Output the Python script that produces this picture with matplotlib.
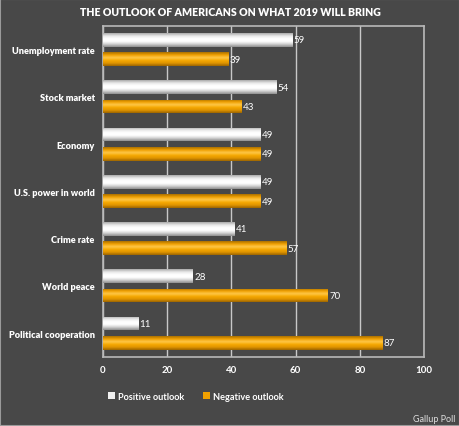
import numpy as np
import matplotlib
matplotlib.use("Agg")
import matplotlib.pyplot as plt
from matplotlib.colors import LinearSegmentedColormap

categories = ["Unemployment rate", "Stock market", "Economy", "U.S. power in world",
              "Crime rate", "World peace", "Political cooperation"]
positive = [59, 54, 49, 49, 41, 28, 11]
negative = [39, 43, 49, 49, 57, 70, 87]
xticks = [0, 20, 40, 60, 80, 100]

BG = "#484848"
plt.rcParams["font.family"] = ["Lato", "DejaVu Sans"]

fig = plt.figure(figsize=(4.6, 4.27), dpi=100, facecolor=BG)
ax = fig.add_axes([0.224, 0.162, 0.698, 0.775], facecolor=BG)

y = np.arange(len(categories))
h = 0.29
off = 0.205

white_cmap = LinearSegmentedColormap.from_list(
    "w", ["#a8a8a8", "#e8e8e8", "#ffffff", "#ffffff", "#d0d0d0", "#8c8c8c"])
orange_cmap = LinearSegmentedColormap.from_list(
    "o", ["#a86e00", "#f0a000", "#ffc84a", "#f5a800", "#e09400", "#9a6400"])

bars_pos = ax.barh(y - off, positive, height=h, color="#f0f0f0", edgecolor="none", zorder=3)
bars_neg = ax.barh(y + off, negative, height=h, color="#f0a000", edgecolor="none", zorder=3)

# cylinder-ish shading on every bar
grad = np.linspace(0, 1, 64).reshape(-1, 1)
for bars, cmap in [(bars_pos, white_cmap), (bars_neg, orange_cmap)]:
    for b in bars:
        x0, y0 = b.get_x(), b.get_y()
        im = ax.imshow(grad, cmap=cmap, aspect="auto", zorder=4,
                       extent=(x0, x0 + b.get_width(), y0 + b.get_height(), y0),
                       interpolation="bicubic")
        im.set_clip_path(b)

for bars, vals in [(bars_pos, positive), (bars_neg, negative)]:
    for b, v in zip(bars, vals):
        ax.text(b.get_width() + 0.4, b.get_y() + b.get_height() / 2, str(v),
                color="white", fontsize=7, va="center", ha="left", zorder=5)

ax.set_xlim(0, 100)
ax.set_ylim(len(categories) - 0.5, -0.5)
ax.set_xticks(xticks)
ax.set_xticklabels([str(t) for t in xticks], fontweight="bold", color="white", fontsize=7)
ax.set_yticks(y)
ax.set_yticklabels(categories, fontweight="heavy", color="white", fontsize=6.6)
ax.tick_params(length=0, pad=6)
ax.xaxis.grid(True, color="#c8c8c8", linewidth=1, zorder=1)
ax.set_axisbelow(True)
for s in ax.spines.values():
    s.set_color("#b8b8b8")
    s.set_linewidth(1.2)

fig.text(0.5, 0.971, "THE OUTLOOK OF AMERICANS ON WHAT 2019 WILL BRING",
         ha="center", va="center", color="white", fontweight="heavy", fontsize=7.6)

leg = fig.legend([bars_pos, bars_neg], ["Positive outlook", "Negative outlook"],
                 loc="center", bbox_to_anchor=(0.426, 0.07), ncol=2, frameon=False,
                 fontsize=6.6, handlelength=0.75, handleheight=0.75, columnspacing=2.0,
                 handletextpad=0.4)
for t in leg.get_texts():
    t.set_color("white")
    t.set_fontweight("bold")

fig.text(0.99, 0.018, "Gallup Poll", ha="right", va="center", color="#dddddd", fontsize=6.5)

border = plt.Rectangle((0, 0), 1, 1, transform=fig.transFigure, fill=False,
                       edgecolor="#9a9a9a", linewidth=1.5)
fig.patches.append(border)

fig.savefig("out.png", dpi=100, facecolor=BG)
